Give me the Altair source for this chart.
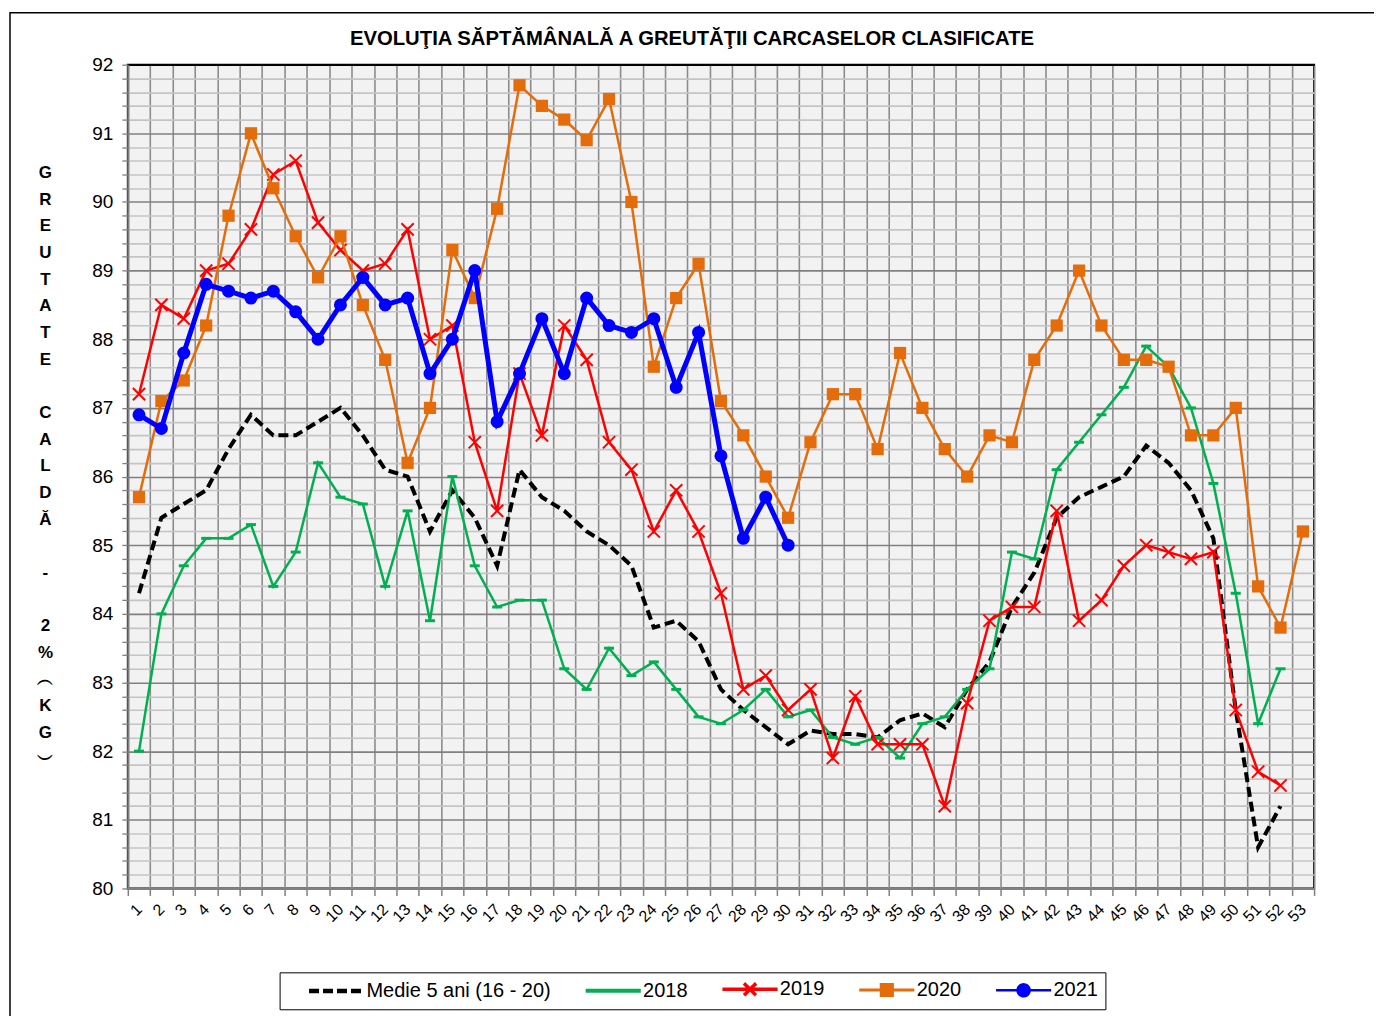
import altair as alt
import pandas as pd

weeks = list(range(1, 54))

series_names = ["Medie 5 ani (16 - 20)", "2018", "2019", "2020", "2021"]
colors = ["#000000", "#00B050", "#FF0000", "#E46C0A", "#0000FF"]

medie = [84.3, 85.4, 85.6, 85.8, 86.4, 86.9, 86.6, 86.6, 86.8, 87.0,
         86.6, 86.1, 86.0, 85.2, 85.8, 85.4, 84.7, 86.1, 85.7, 85.5,
         85.2, 85.0, 84.7, 83.8, 83.9, 83.6, 82.9, 82.6, 82.35, 82.1,
         82.3, 82.25, 82.25, 82.2, 82.45, 82.55, 82.35, 82.9, 83.3, 84.1,
         84.6, 85.4, 85.7, 85.85, 86.0, 86.45, 86.2, 85.8, 85.1, 82.6,
         80.6, 81.2]
y2018 = [82.0, 84.0, 84.7, 85.1, 85.1, 85.3, 84.4, 84.9, 86.2, 85.7,
         85.6, 84.4, 85.5, 83.9, 86.0, 84.7, 84.1, 84.2, 84.2, 83.2,
         82.9, 83.5, 83.1, 83.3, 82.9, 82.5, 82.4, 82.6, 82.9, 82.5,
         82.6, 82.2, 82.1, 82.2, 81.9, 82.4, 82.5, 82.9, 83.2, 84.9,
         84.8, 86.1, 86.5, 86.9, 87.3, 87.9, 87.6, 87.0, 85.9, 84.3,
         82.4, 83.2]
y2019 = [87.2, 88.5, 88.3, 89.0, 89.1, 89.6, 90.4, 90.6, 89.7, 89.3,
         89.0, 89.1, 89.6, 88.0, 88.2, 86.5, 85.5, 87.5, 86.6, 88.2,
         87.7, 86.5, 86.1, 85.2, 85.8, 85.2, 84.3, 82.9, 83.1, 82.6,
         82.9, 81.9, 82.8, 82.1, 82.1, 82.1, 81.2, 82.7, 83.9, 84.1,
         84.1, 85.5, 83.9, 84.2, 84.7, 85.0, 84.9, 84.8, 84.9, 82.6,
         81.7, 81.5]
y2020 = [85.7, 87.1, 87.4, 88.2, 89.8, 91.0, 90.2, 89.5, 88.9, 89.5,
         88.5, 87.7, 86.2, 87.0, 89.3, 88.6, 89.9, 91.7, 91.4, 91.2,
         90.9, 91.5, 90.0, 87.6, 88.6, 89.1, 87.1, 86.6, 86.0, 85.4,
         86.5, 87.2, 87.2, 86.4, 87.8, 87.0, 86.4, 86.0, 86.6, 86.5,
         87.7, 88.2, 89.0, 88.2, 87.7, 87.7, 87.6, 86.6, 86.6, 87.0,
         84.4, 83.8, 85.2]
y2021 = [86.9, 86.7, 87.8, 88.8, 88.7, 88.6, 88.7, 88.4, 88.0, 88.5,
         88.9, 88.5, 88.6, 87.5, 88.0, 89.0, 86.8, 87.5, 88.3, 87.5,
         88.6, 88.2, 88.1, 88.3, 87.3, 88.1, 86.3, 85.1, 85.7, 85.0]

all_values = [medie, y2018, y2019, y2020, y2021]

rows = []
for name, vals in zip(series_names, all_values):
    for w, v in zip(weeks, vals):
        rows.append({"week": w, "value": v, "series": name})
df = pd.DataFrame(rows)

FONT = "Liberation Sans"

y_ticks = [round(80 + 0.2 * i, 1) for i in range(61)]
is_int = "abs(datum.value - round(datum.value)) < 0.01"

B = "\u200b"
y_title = ["G", "R", "E", "U", "T", "A", "T", "E", B, "C", "A", "L", "D", "Ă",
           B, "-", B, "2", "%", "︵", "K", "G", "︶"]

x_enc = alt.X(
    "week:O",
    scale=alt.Scale(type="band", domain=weeks, paddingInner=0, paddingOuter=0),
    axis=alt.Axis(
        title=None, tickBand="extent", grid=True,
        gridColor={"condition": {"test": "datum.extra", "value": "#000000"}, "value": "#8C8C8C"},
        gridWidth=1.6,
        tickColor="#808080", tickSize=7, tickWidth=1.5, domainColor="#808080", domainWidth=2,
        labelAngle=-45, labelAlign="right", labelBaseline="middle", labelFont=FONT,
        labelFontSize=16, labelPadding=11, labelColor="black",
    ),
)
y_enc = alt.Y(
    "value:Q",
    scale=alt.Scale(domain=[80, 92], nice=False, zero=False),
    axis=alt.Axis(
        values=y_ticks,
        labelExpr=f"{is_int} ? format(datum.value, '.0f') : ''",
        gridColor={"condition": [{"test": "datum.value > 91.99", "value": "#000000"},
                                 {"test": is_int, "value": "#808080"}],
                   "value": "#C4C4C4"},
        gridWidth=1.6, tickColor="#808080", tickSize=6, tickWidth=1.3,
        domainColor="#808080", domainWidth=2,
        labelFont=FONT, labelFontSize=19, labelPadding=9, labelColor="black",
        title=y_title, titleAngle=0, titleFont=FONT, titleFontSize=17, titleFontWeight="bold",
        titleLineHeight=26.7, titleX=-83, titleY=100, titleAlign="center", titleBaseline="top",
        titleColor="black",
    ),
)

styles = {
    "Medie 5 ani (16 - 20)": dict(width=4, dash=[10, 5], marker=None),
    "2018": dict(width=2.5, dash=None, marker=dict(shape="M-1,0H1", filled=False, size=100, strokeWidth=3)),
    "2019": dict(width=2.5, dash=None, marker=dict(shape="M-1,-1L1,1M-1,1L1,-1", filled=False, size=150, strokeWidth=2)),
    "2020": dict(width=2.5, dash=None, marker=dict(shape="square", filled=True, size=150, strokeWidth=0)),
    "2021": dict(width=5, dash=None, marker=dict(shape="circle", filled=True, size=170, strokeWidth=0)),
}

layers = []
for name, col in zip(series_names, colors):
    st = styles[name]
    base = alt.Chart(df).transform_filter(alt.datum.series == name)
    line_kw = dict(color=col, strokeWidth=st["width"])
    if st["dash"]:
        line_kw["strokeDash"] = st["dash"]
    layers.append(base.mark_line(**line_kw).encode(x=x_enc, y=y_enc))
    mk = st["marker"]
    if mk:
        layers.append(base.mark_point(shape=mk["shape"], filled=mk["filled"], size=mk["size"],
                                      color=col, strokeWidth=mk["strokeWidth"], opacity=1)
                      .encode(x=x_enc, y=y_enc))

# legend symbols: a line with the series marker in its middle (units of 8 px)
legend_paths = [
    "M-1,0H5.9",
    "M-1,0H5.9",
    "M-1,0H5.9M1.7,-0.75L3.2,0.75M1.7,0.75L3.2,-0.75",
    "M-1,0H5.9M1.75,-0.7H3.15V0.7H1.75Z",
    "M-1,0H5.9M3.2,0A0.75,0.75,0,1,1,1.7,0A0.75,0.75,0,1,1,3.2,0Z",
]
leg = alt.Legend(
    title=None, orient="none", legendX=152, legendY=909, direction="horizontal", columns=5,
    symbolSize=256, symbolOpacity=1, labelFont=FONT, labelFontSize=20, labelLimit=400,
    labelColor="black", labelOffset=39, columnPadding=12, strokeColor="black", padding=7,
    symbolOffset=20,
)
legend_layer = alt.Chart(df).mark_point(opacity=0, size=256, filled=True).encode(
    x=x_enc, y=y_enc,
    shape=alt.Shape("series:N", scale=alt.Scale(domain=series_names, range=legend_paths), legend=leg),
    fill=alt.Fill("series:N", scale=alt.Scale(domain=series_names, range=colors), legend=leg),
    stroke=alt.Stroke("series:N", scale=alt.Scale(domain=series_names, range=colors), legend=leg),
    strokeDash=alt.StrokeDash("series:N", scale=alt.Scale(domain=series_names,
                              range=[[10, 4], [1, 0], [1, 0], [1, 0], [1, 0]]), legend=leg),
    strokeWidth=alt.StrokeWidth("series:N", scale=alt.Scale(domain=series_names,
                                range=[4.5, 2.5, 2.5, 2.5, 4]), legend=leg),
)

border = alt.Chart(alt.Data(values=[{"k": 1}])).mark_rect(
    fillOpacity=0, stroke="black", strokeWidth=1.5
).encode(x=alt.value(-118), x2=alt.value(1250), y=alt.value(-52), y2=alt.value(990))

chart = alt.layer(*layers, legend_layer, border).properties(
    width=1188, height=825,
    title=alt.TitleParams(
        "EVOLUŢIA SĂPTĂMÂNALĂ A GREUTĂŢII CARCASELOR CLASIFICATE",
        font=FONT, fontSize=20.3, fontWeight="bold", anchor="middle", dx=-29,
        offset=0, dy=53.5, baseline="alphabetic", color="black",
    ),
    autosize=alt.AutoSizeParams(type="none"),
    padding={"left": 120, "top": 56, "right": 60, "bottom": 140},
).configure_view(fill="#F2F2F2", stroke="black", strokeWidth=2)

chart.save("out.html", embed_options={"renderer": "svg", "actions": False})
